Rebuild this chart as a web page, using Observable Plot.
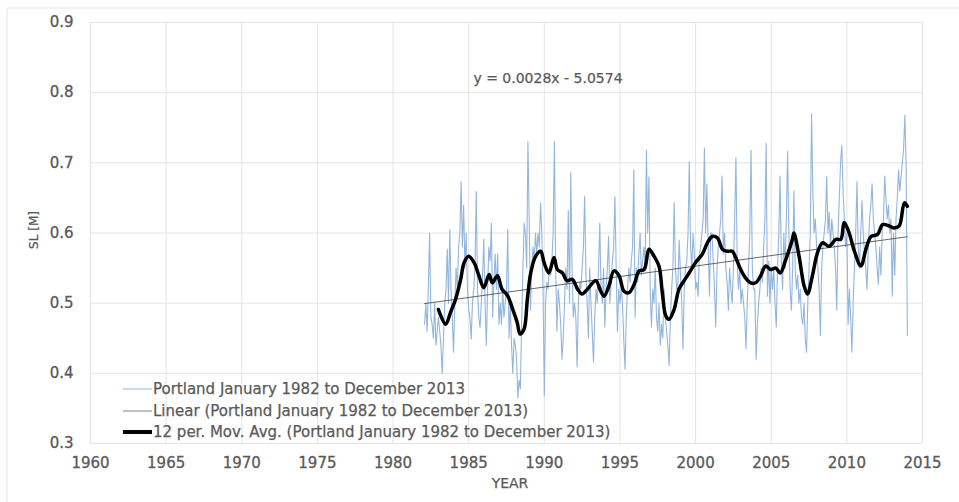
<!DOCTYPE html>
<html><head><meta charset="utf-8">
<script src="https://cdn.jsdelivr.net/npm/d3@7"></script>
<script src="https://cdn.jsdelivr.net/npm/@observablehq/plot@0.6"></script>
<style>
html,body{margin:0;padding:0;background:#fff;}
#chart{position:relative;width:959px;height:502px;overflow:hidden;}
</style></head><body><div id="chart"></div>
<script>
// Portland monthly mean sea level [m], January 1982 .. December 2013 (one row per year, Jan..Dec)
const startYear = 1982;
const portlandMonthly = [
  0.47, 0.50, 0.46, 0.52, 0.60, 0.48, 0.47, 0.45, 0.50, 0.44, 0.46, 0.48,
  0.46, 0.44, 0.40, 0.45, 0.50, 0.52, 0.577, 0.50, 0.605, 0.52, 0.48, 0.43,
  0.50, 0.55, 0.52, 0.58, 0.60, 0.673, 0.58, 0.64, 0.55, 0.60, 0.52, 0.49,
  0.48, 0.449, 0.50, 0.52, 0.55, 0.659, 0.52, 0.48, 0.465, 0.50, 0.54, 0.591,
  0.50, 0.44, 0.52, 0.58, 0.56, 0.614, 0.48, 0.53, 0.57, 0.52, 0.57, 0.47,
  0.50, 0.47, 0.52, 0.48, 0.50, 0.52, 0.605, 0.45, 0.50, 0.44, 0.40, 0.45,
  0.44, 0.42, 0.365, 0.39, 0.378, 0.47, 0.55, 0.614, 0.60, 0.55, 0.730, 0.62,
  0.49, 0.55, 0.58, 0.56, 0.60, 0.57, 0.60, 0.58, 0.643, 0.60, 0.52, 0.368,
  0.50, 0.53, 0.52, 0.55, 0.54, 0.56, 0.60, 0.730, 0.55, 0.46, 0.52, 0.50,
  0.47, 0.42, 0.45, 0.50, 0.55, 0.52, 0.632, 0.50, 0.686, 0.55, 0.48, 0.50,
  0.48, 0.409, 0.50, 0.53, 0.52, 0.55, 0.58, 0.652, 0.54, 0.50, 0.45, 0.55,
  0.50, 0.46, 0.416, 0.48, 0.52, 0.50, 0.55, 0.614, 0.52, 0.50, 0.55, 0.466,
  0.52, 0.55, 0.595, 0.50, 0.53, 0.56, 0.58, 0.652, 0.55, 0.46, 0.52, 0.50,
  0.52, 0.50, 0.45, 0.406, 0.48, 0.52, 0.55, 0.53, 0.56, 0.58, 0.69, 0.48,
  0.55, 0.53, 0.57, 0.60, 0.54, 0.56, 0.58, 0.55, 0.718, 0.60, 0.68, 0.52,
  0.466, 0.52, 0.50, 0.55, 0.48, 0.46, 0.50, 0.44, 0.47, 0.45, 0.52, 0.48,
  0.46, 0.44, 0.411, 0.48, 0.52, 0.55, 0.643, 0.55, 0.52, 0.53, 0.59, 0.54,
  0.50, 0.435, 0.52, 0.55, 0.56, 0.60, 0.702, 0.58, 0.55, 0.60, 0.57, 0.52,
  0.53, 0.51, 0.57, 0.58, 0.60, 0.62, 0.721, 0.60, 0.67, 0.58, 0.51, 0.60,
  0.60, 0.56, 0.52, 0.466, 0.55, 0.58, 0.60, 0.62, 0.681, 0.57, 0.60, 0.55,
  0.53, 0.49, 0.55, 0.52, 0.50, 0.55, 0.62, 0.707, 0.56, 0.52, 0.55, 0.50,
  0.52, 0.50, 0.48, 0.435, 0.50, 0.55, 0.60, 0.718, 0.55, 0.52, 0.52, 0.42,
  0.47, 0.50, 0.52, 0.55, 0.53, 0.58, 0.62, 0.728, 0.51, 0.56, 0.50, 0.55,
  0.52, 0.55, 0.50, 0.466, 0.55, 0.60, 0.681, 0.56, 0.52, 0.60, 0.55, 0.62,
  0.716, 0.60, 0.52, 0.49, 0.55, 0.66, 0.55, 0.52, 0.54, 0.50, 0.52, 0.48,
  0.47, 0.50, 0.45, 0.43, 0.50, 0.55, 0.60, 0.770, 0.66, 0.60, 0.62, 0.58,
  0.55, 0.52, 0.454, 0.55, 0.58, 0.60, 0.62, 0.68, 0.60, 0.63, 0.58, 0.62,
  0.60, 0.58, 0.55, 0.49, 0.60, 0.65, 0.70, 0.725, 0.66, 0.62, 0.58, 0.60,
  0.47, 0.52, 0.48, 0.43, 0.50, 0.55, 0.60, 0.673, 0.58, 0.55, 0.60, 0.646,
  0.60, 0.57, 0.55, 0.52, 0.58, 0.62, 0.64, 0.67, 0.62, 0.60, 0.58, 0.55,
  0.527, 0.58, 0.54, 0.60, 0.62, 0.681, 0.65, 0.62, 0.64, 0.60, 0.62, 0.51,
  0.60, 0.54, 0.62, 0.65, 0.69, 0.66, 0.68, 0.70, 0.72, 0.768, 0.70, 0.454
];

// 12-period moving average
const maYear = [
  1983.0, 1983.48, 1983.8, 1984.14, 1984.47, 1984.7, 1985.0, 1985.35, 1985.68, 1986.0,
  1986.35, 1986.56, 1986.9, 1987.2, 1987.56, 1987.9, 1988.2, 1988.4, 1988.66, 1988.88,
  1989.1, 1989.43, 1989.76, 1989.98, 1990.3, 1990.64, 1990.86, 1991.2, 1991.5, 1991.85,
  1992.2, 1992.5, 1992.85, 1993.4, 1993.73, 1993.95, 1994.28, 1994.6, 1994.94, 1995.27,
  1995.6, 1995.94, 1996.27, 1996.6, 1996.92, 1997.25, 1997.58, 1997.8, 1998.03, 1998.25,
  1998.58, 1998.9, 1999.24, 1999.57, 2000.0, 2000.45, 2000.78, 2001.1, 2001.44, 2001.77,
  2002.1, 2002.43, 2002.65, 2002.98, 2003.3, 2003.64, 2003.97, 2004.3, 2004.63, 2004.96,
  2005.3, 2005.6, 2005.96, 2006.4, 2006.5, 2006.84, 2007.17, 2007.4, 2007.72, 2008.06,
  2008.39, 2008.83, 2009.27, 2009.6, 2009.82, 2010.15, 2010.5, 2010.93, 2011.26, 2011.6,
  2012.03, 2012.36, 2012.8, 2013.13, 2013.46, 2013.8, 2014.0
];
const maValue = [
  0.491, 0.470, 0.487, 0.506, 0.534, 0.558, 0.567, 0.558, 0.539, 0.522,
  0.541, 0.529, 0.539, 0.520, 0.511, 0.492, 0.473, 0.456, 0.463, 0.506,
  0.543, 0.567, 0.574, 0.558, 0.543, 0.565, 0.548, 0.543, 0.532, 0.534,
  0.520, 0.513, 0.520, 0.532, 0.517, 0.510, 0.525, 0.546, 0.539, 0.517,
  0.515, 0.527, 0.546, 0.548, 0.577, 0.567, 0.553, 0.515, 0.482, 0.477,
  0.491, 0.520, 0.532, 0.543, 0.558, 0.570, 0.586, 0.595, 0.593, 0.577,
  0.574, 0.574, 0.565, 0.548, 0.536, 0.529, 0.529, 0.539, 0.553, 0.548,
  0.550, 0.543, 0.562, 0.591, 0.600, 0.567, 0.525, 0.513, 0.539, 0.572,
  0.586, 0.581, 0.591, 0.591, 0.615, 0.600, 0.574, 0.553, 0.577, 0.595,
  0.598, 0.612, 0.610, 0.607, 0.610, 0.643, 0.638
];

const xTicks = [1960, 1965, 1970, 1975, 1980, 1985, 1990, 1995, 2000, 2005, 2010, 2015];
const yTicks = [0.3, 0.4, 0.5, 0.6, 0.7, 0.8, 0.9];
const legendLabels = [
  "Portland January 1982 to December 2013",
  "Linear (Portland January 1982 to December 2013)",
  "12 per. Mov. Avg. (Portland January 1982 to December 2013)"
];
const xLabel = "YEAR";
const yLabel = "SL [M]";
const equationText = "y = 0.0028x - 5.0574";

const rawColor = "#93b6dc", trendColor = "#404040", maColor = "#000000", textColor = "#595959";
const font = "'DejaVu Sans', sans-serif";

const monthly = portlandMonthly.map((v, i) => ({t: startYear + (i + 1) / 12, v}));
const ma = maYear.map((t, i) => ({t, v: maValue[i]}));

const plot = Plot.plot({
  width: 959, height: 502,
  marginLeft: 90, marginRight: 37, marginTop: 22, marginBottom: 59,
  style: {fontFamily: font, fontSize: "15px", color: textColor, background: "#fff"},
  x: {domain: [1960, 2015], ticks: xTicks, tickFormat: d => String(d), tickSize: 0, tickPadding: 14, label: null},
  y: {domain: [0.3, 0.9], ticks: yTicks, tickFormat: d => d.toFixed(1), tickSize: 0, tickPadding: 17, label: null},
  marks: [
    Plot.gridX(xTicks, {stroke: "#e4e4e4", strokeOpacity: 1}),
    Plot.gridY(yTicks, {stroke: "#e4e4e4", strokeOpacity: 1}),
    Plot.line(monthly, {x: "t", y: "v", stroke: rawColor, strokeWidth: 1.1}),
    Plot.linearRegressionY(monthly, {x: "t", y: "v", stroke: trendColor, strokeWidth: 0.8, ci: 0}),
    Plot.line(ma, {x: "t", y: "v", stroke: maColor, strokeWidth: 3.5, curve: "catmull-rom"})
  ]
});
document.getElementById("chart").appendChild(plot);

const svg = d3.select(plot);
// slightly heavier tick labels, as in the reference
svg.selectAll('[aria-label$="tick label"] text').attr("stroke", textColor).attr("stroke-width", 0.3);

// overlays: border, axis titles, equation, legend
const g = svg.append("g").attr("font-family", font).attr("fill", textColor).attr("text-anchor", "start")
  .attr("stroke", textColor).attr("stroke-width", 0.25);
g.append("line").attr("x1", 7).attr("x2", 7).attr("y1", 8).attr("y2", 502).attr("stroke", "#e3e3e3").attr("stroke-width", 1);
g.append("line").attr("x1", 7).attr("x2", 959).attr("y1", 8).attr("y2", 8).attr("stroke", "#e3e3e3").attr("stroke-width", 1);
g.append("text").attr("x", 510).attr("y", 488).attr("text-anchor", "middle").attr("font-size", 14).text(xLabel);
g.append("text").attr("transform", "translate(38,230) rotate(-90)").attr("text-anchor", "middle").attr("font-size", 12).text(yLabel);
g.append("text").attr("x", 548).attr("y", 83).attr("text-anchor", "middle").attr("font-size", 14).text(equationText);
const legendRows = [
  {y: 389, stroke: rawColor, w: 1},
  {y: 411, stroke: "#808080", w: 1},
  {y: 432, stroke: "#000", w: 4}
];
legendRows.forEach((r, i) => {
  g.append("line").attr("x1", 123).attr("x2", 152).attr("y1", r.y).attr("y2", r.y)
    .attr("stroke", r.stroke).attr("stroke-width", r.w);
  g.append("text").attr("x", 153).attr("y", r.y).attr("dy", "0.35em").attr("text-anchor", "start")
    .attr("font-size", 15).text(legendLabels[i]);
});
</script></body></html>
